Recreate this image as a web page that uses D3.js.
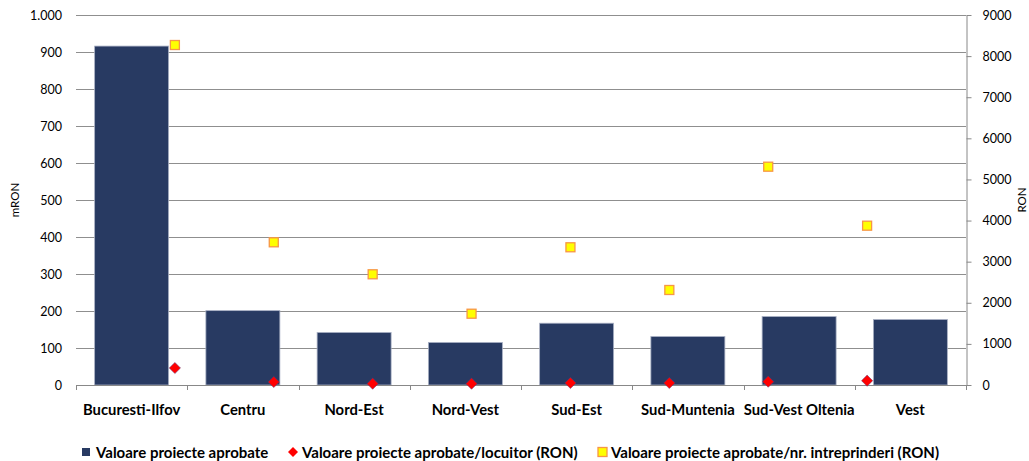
<!DOCTYPE html>
<html>
<head>
<meta charset="utf-8">
<script src="https://cdn.jsdelivr.net/npm/d3@7"></script>
<style>
  body { margin: 0; background: #fff; }
  svg { display: block; font-family: Lato, "Open Sans", sans-serif; }
</style>
</head>
<body>
<svg id="chart" width="1029" height="461"></svg>
<script>
// Regions
const regions = ["Bucuresti-Ilfov", "Centru", "Nord-Est", "Nord-Vest", "Sud-Est", "Sud-Muntenia", "Sud-Vest Oltenia", "Vest"];
// Valoare proiecte aprobate (mRON) — left axis
const valoareTotal = [916, 201, 142, 115, 167, 131, 185, 177];
// Valoare proiecte aprobate / locuitor (RON) — right axis
const valoarePerLocuitor = [413, 73, 32, 32, 49, 49, 80, 105];
// Valoare proiecte aprobate / nr. intreprinderi (RON) — right axis
const valoarePerIntreprindere = [8270, 3471, 2693, 1734, 3350, 2311, 5310, 3875];

const leftTicks = [0, 100, 200, 300, 400, 500, 600, 700, 800, 900, 1000];
const rightTicks = [0, 1000, 2000, 3000, 4000, 5000, 6000, 7000, 8000, 9000];

const legendLabels = [
  "Valoare proiecte aprobate",
  "Valoare proiecte aprobate/locuitor (RON)",
  "Valoare proiecte aprobate/nr. intreprinderi (RON)"
];

const svg = d3.select("#chart");
const plot = { left: 76, right: 966, top: 15, bottom: 385 };

const x = d3.scaleBand().domain(regions)
  .range([plot.left, plot.right])
  .paddingInner(0.335).paddingOuter(0.1675);
// Secondary series sit on their own point scale
const x2 = d3.scalePoint().domain(regions)
  .range([plot.left, plot.right]).padding(1);

const yLeft = d3.scaleLinear().domain([0, 1000]).range([plot.bottom, plot.top]);
const yRight = d3.scaleLinear().domain([0, 9000]).range([plot.bottom, plot.top]);

const fmtLeft = d => d === 1000 ? "1.000" : String(d);

// Gridlines
svg.append("g")
  .selectAll("line").data(leftTicks.filter(d => d > 0)).join("line")
  .attr("x1", plot.left).attr("x2", plot.right)
  .attr("y1", d => Math.round(yLeft(d)) + 0.5).attr("y2", d => Math.round(yLeft(d)) + 0.5)
  .attr("stroke", "#8f8f8f").attr("stroke-width", 1.2);

// Left axis
const gL = svg.append("g").attr("transform", `translate(${plot.left},0)`)
  .call(d3.axisLeft(yLeft).tickValues(leftTicks).tickFormat(fmtLeft).tickSize(0).tickPadding(14));
gL.select(".domain").remove();
gL.selectAll("text").attr("font-size", 12.5).attr("fill", "#000").attr("font-family", "Lato, sans-serif");

// Right axis
const gR = svg.append("g").attr("transform", `translate(${plot.right + 0.5},0)`)
  .call(d3.axisRight(yRight).tickValues(rightTicks).tickFormat(d => String(d))
    .tickSizeOuter(0).tickSizeInner(5).tickPadding(11));
gR.select(".domain").attr("stroke", "#888");
gR.selectAll(".tick line").attr("stroke", "#888");
gR.selectAll("text").attr("font-size", 12.5).attr("fill", "#000").attr("font-family", "Lato, sans-serif");

// Bars
svg.append("g").selectAll("rect").data(regions).join("rect")
  .attr("x", d => x(d))
  .attr("y", (d, i) => yLeft(valoareTotal[i]))
  .attr("width", x.bandwidth())
  .attr("height", (d, i) => plot.bottom - yLeft(valoareTotal[i]))
  .attr("fill", "#283a62")
  .attr("stroke", "#a9b0c4").attr("stroke-width", 0.8);

// Category axis
const bounds = regions.map(r => x(r) - x.step() * x.paddingInner() / 2).concat([plot.right]);
const gX = svg.append("g");
gX.append("line").attr("x1", plot.left).attr("x2", plot.right)
  .attr("y1", plot.bottom + 0.5).attr("y2", plot.bottom + 0.5).attr("stroke", "#888");
gX.selectAll("line.tk").data(bounds).join("line").attr("class", "tk")
  .attr("x1", d => Math.round(d) + 0.5).attr("x2", d => Math.round(d) + 0.5)
  .attr("y1", plot.bottom).attr("y2", plot.bottom + 5).attr("stroke", "#888");
gX.selectAll("text").data(regions).join("text")
  .attr("x", d => x(d) + x.bandwidth() / 2)
  .attr("y", 415)
  .attr("text-anchor", "middle")
  .attr("font-size", 14.8).attr("font-weight", "bold").attr("fill", "#000")
  .text(d => d);

// Per-locuitor diamonds
const diamond = d3.symbol().type(d3.symbolDiamond2).size(80);
svg.append("g").selectAll("path").data(regions).join("path")
  .attr("transform", (d, i) => `translate(${x2(d)},${yRight(valoarePerLocuitor[i])})`)
  .attr("d", diamond)
  .attr("fill", "#ff0000").attr("stroke", "#5a3a7a").attr("stroke-width", 0.5);

// Per-intreprindere squares
const sq = 9;
svg.append("g").selectAll("rect").data(regions).join("rect")
  .attr("x", d => x2(d) - sq / 2)
  .attr("y", (d, i) => yRight(valoarePerIntreprindere[i]) - sq / 2)
  .attr("width", sq).attr("height", sq)
  .attr("fill", "#ffff00").attr("stroke", "#f79646").attr("stroke-width", 1.3);

// Axis titles
svg.append("text").attr("transform", "translate(19,200) rotate(-90)")
  .attr("text-anchor", "middle").attr("font-size", 11.5).attr("fill", "#000").text("mRON");
svg.append("text").attr("transform", "translate(1026,200) rotate(-90)")
  .attr("text-anchor", "middle").attr("font-size", 11.5).attr("fill", "#000").text("RON");

// Legend
const lg = svg.append("g").attr("font-size", 15).attr("font-weight", "bold");
lg.append("rect").attr("x", 82).attr("y", 448).attr("width", 8).attr("height", 8).attr("fill", "#283a62");
lg.append("text").attr("x", 96).attr("y", 457.5).text(legendLabels[0]);
lg.append("path").attr("transform", "translate(293,452)")
  .attr("d", d3.symbol().type(d3.symbolDiamond2).size(64)).attr("fill", "#ff0000");
lg.append("text").attr("x", 302).attr("y", 457.5).text(legendLabels[1]);
lg.append("rect").attr("x", 598).attr("y", 447.5).attr("width", 9).attr("height", 9)
  .attr("fill", "#ffff00").attr("stroke", "#f79646").attr("stroke-width", 1.3);
lg.append("text").attr("x", 611).attr("y", 457.5).text(legendLabels[2]);
</script>
</body>
</html>
